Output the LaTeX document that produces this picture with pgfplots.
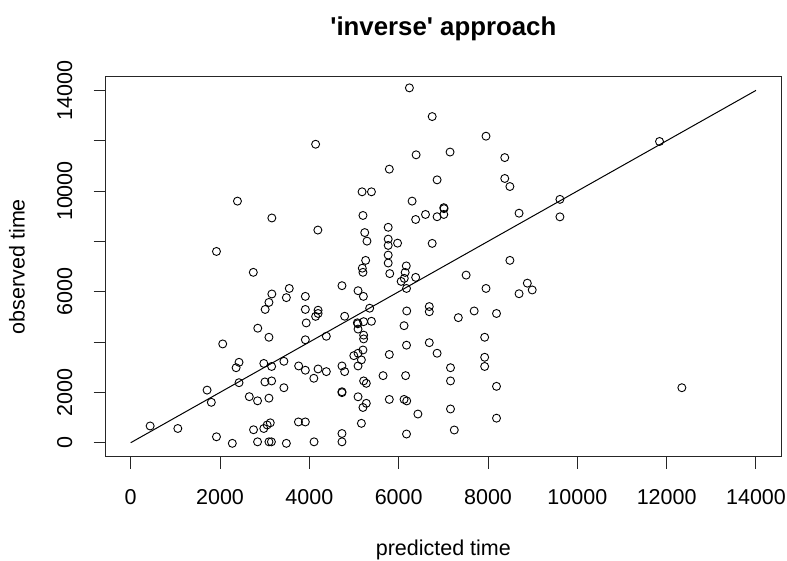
\documentclass[border=0pt]{standalone}
\usepackage{fontspec}
\setmainfont{Liberation Sans}[Ligatures=TeXOff]
\usepackage{pgfplots}
\pgfplotsset{compat=1.18}
\begin{document}
\begin{tikzpicture}
\path[use as bounding box] (0,0) rectangle (787bp,561bp);
\begin{axis}[
  at={(105.7bp,104.2bp)}, anchor=south west,
  scale only axis, width=675.3bp, height=380.5bp,
  xmin=-560, xmax=14560, ymin=-560, ymax=14560,
  xtick={0,2000,...,14000}, ytick={0,2000,...,14000},
  yticklabels={0,2000,,6000,,10000,,14000},
  scaled ticks=false,
  axis line style={line width=1bp, black!85},
  tick style={line width=1bp, black!85},
  tick align=outside, major tick length=12bp,
  tick pos=left,
  /pgf/number format/assume math mode=true,
  /pgf/number format/1000 sep={},
  /pgf/number format/fixed,
  ticklabel style={font=\fontsize{21.5bp}{25bp}\selectfont},
  xticklabel style={anchor=center, yshift=-28bp},
  yticklabel style={xshift=-29bp, rotate=90, anchor=center},
  title={'inverse' approach},
  title style={at={([yshift=34.6bp]axis description cs:0.5,1)}, anchor=base, font=\fontsize{25.8bp}{30bp}\selectfont\bfseries},
  xlabel={predicted time},
  ylabel={observed time},
  label style={font=\fontsize{21.5bp}{25bp}\selectfont},
  xlabel style={at={([yshift=-98.5bp]axis description cs:0.5,0)}, anchor=base},
  ylabel style={at={([xshift=-81bp]axis description cs:0,0.5)}, anchor=base},
]
\addplot[black, line width=1bp] coordinates {(0,0) (14000,14000)};
\addplot[only marks, mark=o, mark size=4bp, mark options={line width=0.9bp, black}] table {
X Y
6240 14100
6750 12960
4140 11860
6390 11440
7150 11550
5790 10870
6860 10445
5180 9970
5390 9970
6300 9600
2390 9600
7010 9340
7015 9300
6600 9070
6860 8980
7010 9070
5200 9030
3160 8930
6380 8870
5765 8560
4190 8450
5240 8350
5290 8010
5765 8090
5765 7840
5975 7930
6750 7920
1920 7600
5765 7455
5260 7245
5765 7140
6170 7025
6145 6767
6125 6530
6055 6410
5185 6935
5200 6770
2745 6770
5800 6720
6380 6570
6175 6130
7955 12180
8375 11330
8375 10500
8490 10180
8695 9120
9610 9670
9610 8975
11840 11970
8490 7245
7510 6660
8880 6340
8990 6070
7955 6130
8695 5920
6685 5410
6685 5205
7690 5235
8190 5135
7335 4970
7925 4190
6685 3975
6860 3555
7925 3395
7925 3030
7160 2980
7160 2455
8190 2240
7160 1340
8190 975
7245 505
12340 2185
6430 1140
3160 5910
3095 5575
3010 5295
3550 6130
3485 5765
3910 5815
3910 5295
3930 4760
4195 5265
4195 5135
4140 5020
2845 4550
3095 4190
2060 3925
3910 4090
4380 4230
2425 3195
2360 2980
2980 3150
3155 3030
3430 3235
3760 3050
3910 2880
4195 2930
4100 2560
4380 2825
2425 2385
3005 2415
3155 2455
3430 2185
1710 2090
1805 1605
2655 1830
2840 1665
3095 1770
435 665
1055 565
2750 515
2980 565
3055 705
3125 790
1920 235
2275 -25
2840 35
3095 35
3150 35
3755 825
3910 825
3485 -25
4105 35
4730 365
4730 35
4730 6240
5090 6040
5210 5815
4790 5025
5350 5345
5075 4765
5085 4725
5215 4810
5390 4825
5090 4515
5215 4275
5215 4125
6120 4650
6180 5235
6175 3875
5200 3685
5090 3555
4995 3460
5165 3290
5090 3050
5790 3505
4730 3050
4790 2825
5650 2665
6155 2665
5215 2455
5275 2360
4730 2025
4730 1990
5090 1825
5275 1565
5200 1400
5790 1720
6120 1720
6180 1660
5165 770
6175 345
};
\end{axis}
\end{tikzpicture}
\end{document}
